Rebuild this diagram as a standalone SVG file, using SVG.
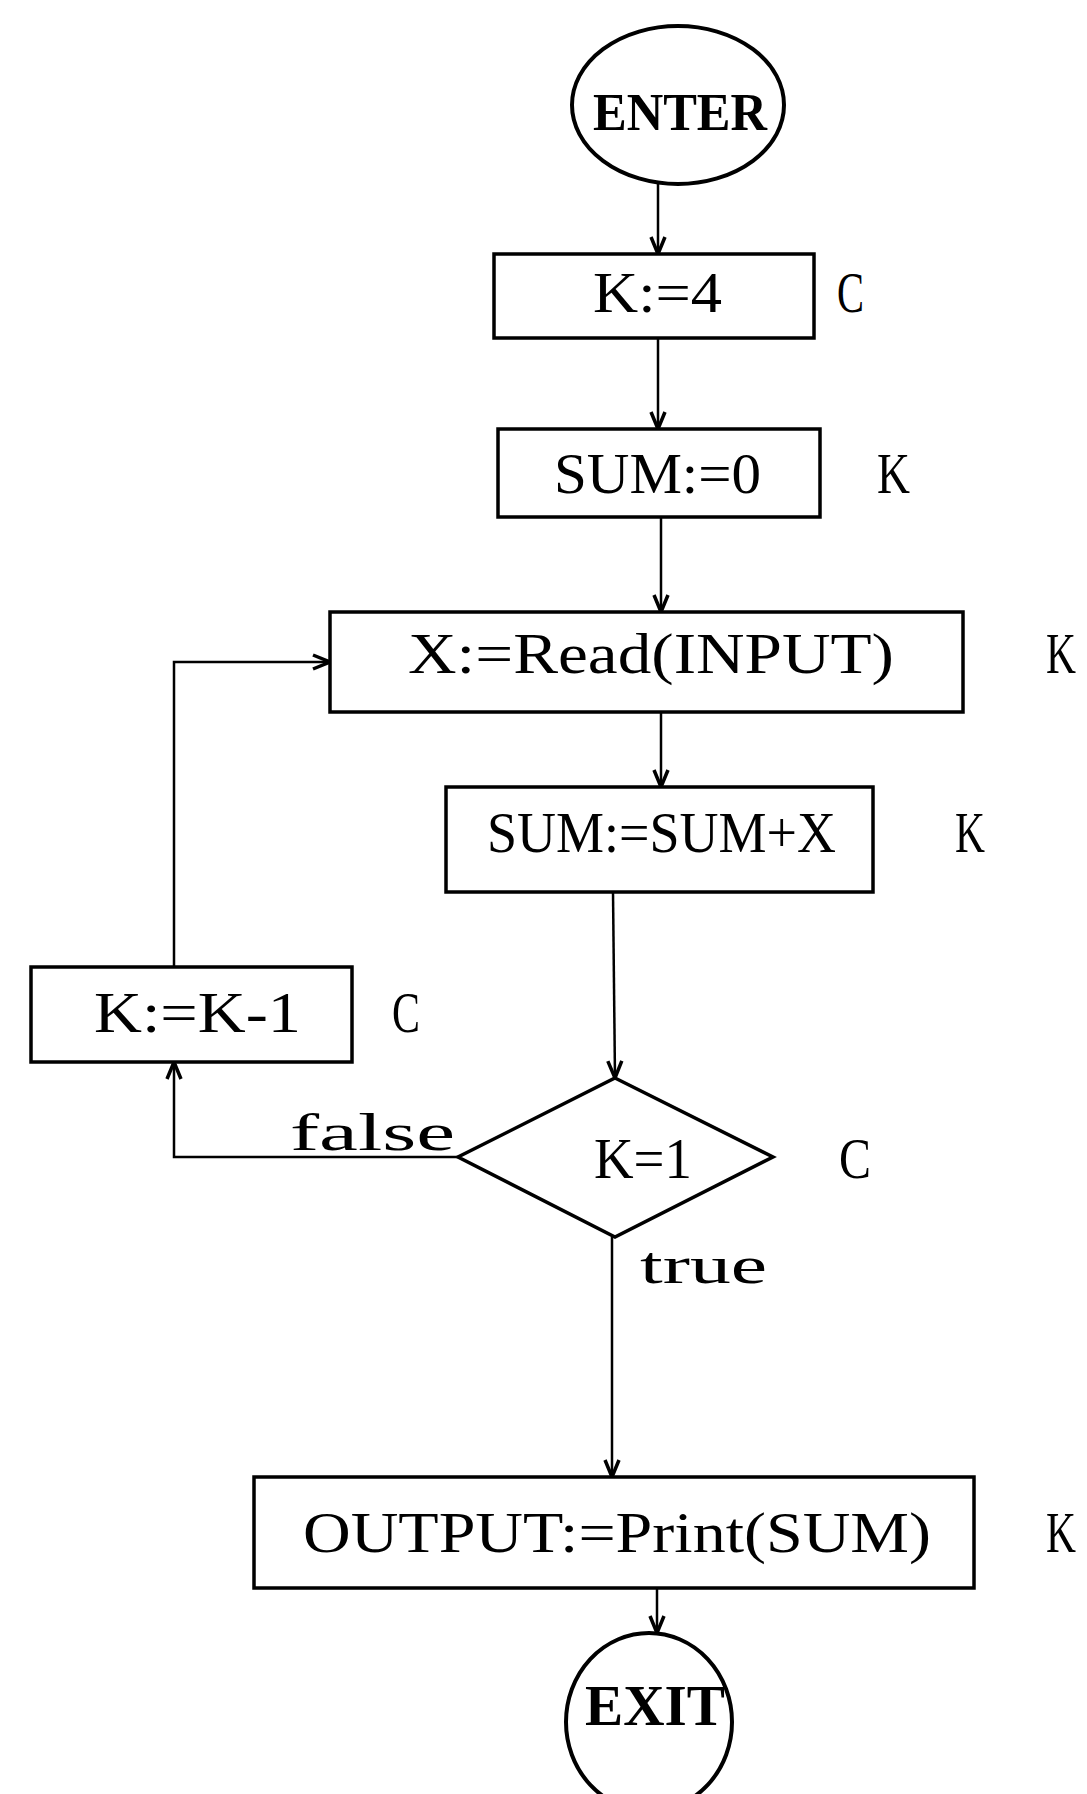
<svg xmlns="http://www.w3.org/2000/svg" width="1087" height="1794" viewBox="0 0 1087 1794">
<defs>
<marker id="arr" viewBox="0 0 20 20" refX="19" refY="10" markerWidth="20" markerHeight="20" markerUnits="userSpaceOnUse" orient="auto">
<path d="M2,3 L19,10 L2,17" fill="none" stroke="#000" stroke-width="3.5"/>
</marker>
<style>
.box{fill:#fff;stroke:#000;stroke-width:3.5}
.term{fill:#fff;stroke:#000;stroke-width:4}
.conn{fill:none;stroke:#000;stroke-width:2.5}
.t{font-family:"Liberation Serif","DejaVu Serif",serif;font-size:56px;fill:#000}
.tb{font-family:"Liberation Serif","DejaVu Serif",serif;font-weight:bold;fill:#000}
.lab{font-family:"Liberation Serif","DejaVu Serif",serif;font-size:52px;fill:#000}
</style>
</defs>
<rect width="1087" height="1794" fill="#fff"/>
<g id="connectors">
<path class="conn" d="M658,183 L658,254" marker-end="url(#arr)"/>
<path class="conn" d="M658,339 L658,429" marker-end="url(#arr)"/>
<path class="conn" d="M661,517 L661,612" marker-end="url(#arr)"/>
<path class="conn" d="M661,712 L661,787" marker-end="url(#arr)"/>
<path class="conn" d="M613,892 L615,1078" marker-end="url(#arr)"/>
<path class="conn" d="M458,1157 L174,1157 L174,1062" marker-end="url(#arr)"/>
<path class="conn" d="M174,967 L174,662 L330,662" marker-end="url(#arr)"/>
<path class="conn" d="M612,1237 L612,1477" marker-end="url(#arr)"/>
<path class="conn" d="M657,1588 L657,1633" marker-end="url(#arr)"/>
<text class="lab" x="290" y="1150" textLength="165" lengthAdjust="spacingAndGlyphs">false</text>
<text class="lab" x="640" y="1283" textLength="127" lengthAdjust="spacingAndGlyphs">true</text>
</g>
<g id="enter">
<ellipse class="term" cx="678" cy="105" rx="106" ry="79"/>
<text class="tb" x="680" y="130" font-size="52" text-anchor="middle" textLength="174" lengthAdjust="spacingAndGlyphs">ENTER</text>
</g>
<g id="k4">
<rect class="box" x="494" y="254" width="320" height="84"/>
<text class="t" x="593" y="312" textLength="129" lengthAdjust="spacingAndGlyphs">K:=4</text>
<text class="t" x="837" y="312" textLength="27" lengthAdjust="spacingAndGlyphs">C</text>
</g>
<g id="sum0">
<rect class="box" x="498" y="429" width="322" height="88"/>
<text class="t" x="554" y="493" textLength="207" lengthAdjust="spacingAndGlyphs">SUM:=0</text>
<text class="t" x="877" y="493" textLength="33" lengthAdjust="spacingAndGlyphs">K</text>
</g>
<g id="read">
<rect class="box" x="330" y="612" width="633" height="100"/>
<text class="t" x="408" y="673" textLength="486" lengthAdjust="spacingAndGlyphs">X:=Read(INPUT)</text>
<text class="t" x="1046" y="673" textLength="30" lengthAdjust="spacingAndGlyphs">K</text>
</g>
<g id="sumx">
<rect class="box" x="446" y="787" width="427" height="105"/>
<text class="t" x="487" y="852" textLength="349" lengthAdjust="spacingAndGlyphs">SUM:=SUM+X</text>
<text class="t" x="955" y="852" textLength="30" lengthAdjust="spacingAndGlyphs">K</text>
</g>
<g id="km1">
<rect class="box" x="31" y="967" width="321" height="95"/>
<text class="t" x="94" y="1032" textLength="207" lengthAdjust="spacingAndGlyphs">K:=K-1</text>
<text class="t" x="392" y="1032" textLength="28" lengthAdjust="spacingAndGlyphs">C</text>
</g>
<g id="cond">
<polygon class="box" points="615,1078 773,1157 615,1237 458,1157"/>
<text class="t" x="594" y="1178" textLength="98" lengthAdjust="spacingAndGlyphs">K=1</text>
<text class="t" x="839" y="1178" textLength="32" lengthAdjust="spacingAndGlyphs">C</text>
</g>
<g id="output">
<rect class="box" x="254" y="1477" width="720" height="111"/>
<text class="t" x="303" y="1552" textLength="628" lengthAdjust="spacingAndGlyphs">OUTPUT:=Print(SUM)</text>
<text class="t" x="1046" y="1552" textLength="30" lengthAdjust="spacingAndGlyphs">K</text>
</g>
<g id="exit">
<ellipse class="term" cx="649" cy="1722" rx="83" ry="89"/>
<text class="tb" x="585" y="1725" font-size="57" textLength="140" lengthAdjust="spacingAndGlyphs">EXIT</text>
</g>
</svg>
